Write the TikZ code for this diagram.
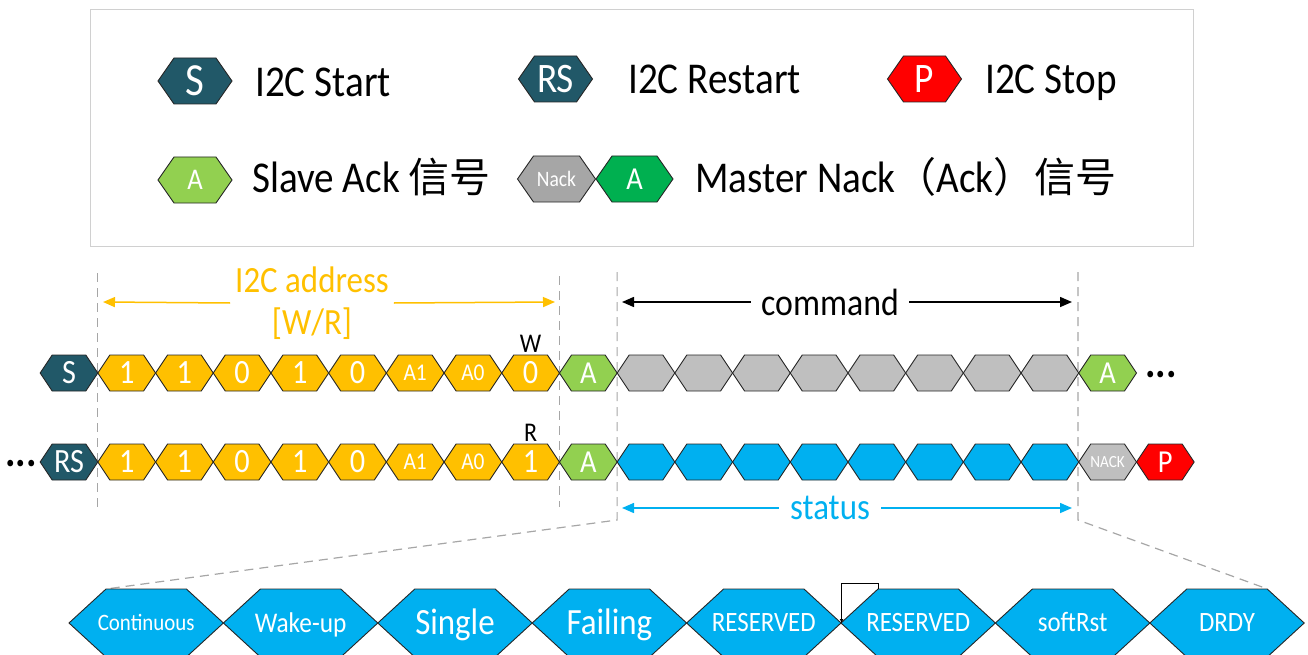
\documentclass[tikz,border=0pt]{standalone}
\usepackage{fontspec}
\setmainfont{Carlito}[FakeStretch=0.89]
\newfontfamily\cjk{Noto Sans CJK SC}
\usetikzlibrary{arrows.meta}
\definecolor{cS}{HTML}{215868}
\definecolor{cY}{HTML}{FFC000}
\definecolor{cA}{HTML}{92D050}
\definecolor{cG}{HTML}{BFBFBF}
\definecolor{cN}{HTML}{A6A6A6}
\definecolor{cD}{HTML}{00B050}
\definecolor{cR}{HTML}{FF0000}
\definecolor{cB}{HTML}{00B0F0}
\definecolor{cDash}{HTML}{A6A6A6}
\definecolor{cBox}{HTML}{D0D0D0}
\newcommand\fsz[1]{\fontsize{#1}{#1}\selectfont}
% name, x, y, width, height, point extension, fill, font size, text
\newcommand\hx[9]{%
  \filldraw[hexline,fill=#7] ({#2-#4/2},#3) -- ({#2-#4/2+#6},{#3-#5/2}) -- ({#2+#4/2-#6},{#3-#5/2}) -- ({#2+#4/2},#3) -- ({#2+#4/2-#6},{#3+#5/2}) -- ({#2-#4/2+#6},{#3+#5/2}) -- cycle;
  \node[hextext,font=\fsz{#8}] (#1) at (#2,{#3+0.32*#8}) {#9};
}
\begin{document}
\begin{tikzpicture}[x=1pt,y=-1pt,
  hexline/.style={draw=black!85,line width=0.9pt,line join=miter},
  hextext/.style={anchor=base,text=white,inner sep=0pt},
  guide/.style={draw=cDash,line width=1.2pt,dash pattern=on 9pt off 6pt},
  lbl/.style={anchor=base west,inner sep=0pt,text=black},
  dimarrow/.style={line width=1.5pt,-{Triangle[length=12pt,width=10pt]}},
]
\useasboundingbox (0,0) rectangle (1308,655);

% ---------- legend ----------
\draw[cBox,line width=1pt] (90,10) rectangle (1193,246);
\hx{lS}{195}{81}{74}{46}{16}{cS}{46}{S}
\node[lbl,font=\fsz{44}] (tS) at (255,{82+0.32*44}) {I2C Start};
\hx{lRS}{555.5}{79}{74}{46}{16}{cS}{42}{RS}
\node[lbl,font=\fsz{44}] (tRS) at (628,{79+0.32*44}) {I2C Restart};
\hx{lP}{924.5}{79}{74}{46}{16}{cR}{42}{P}
\node[lbl,font=\fsz{44}] (tP) at (985,{79+0.32*44}) {I2C Stop};
\hx{lA}{195}{180}{74}{46}{16}{cA}{30}{A}
\node[lbl,font=\fsz{44}] (tA) at (252,{178+0.32*44}) {Slave Ack {\cjk\fsz{41}信号}};
\hx{lN}{556.5}{179}{78}{46}{16}{cN}{22}{Nack}
\hx{lD}{634.5}{179}{77}{46}{16}{cD}{32}{A}
\node[lbl,font=\fsz{44}] (tN) at (695,{178+0.32*44}) {Master Nack{\cjk\fsz{41}（}Ack{\cjk\fsz{41}）信号}};

% ---------- guide lines ----------
\coordinate (g1t) at (97.8,273); \coordinate (g1b) at (97.8,507);
\coordinate (g2t) at (559.4,276); \coordinate (g2b) at (559.4,507);
\coordinate (g3t) at (617.1,272); \coordinate (g3b) at (617.1,520);
\coordinate (g4t) at (1078,272); \coordinate (g4b) at (1078,520);
\coordinate (bTL) at (106,589); \coordinate (bTR) at (1267.6,589);
\draw[guide] (g1t) -- (g1b);
\draw[guide] (g2t) -- (g2b);
\draw[guide] (g3t) -- (g3b) -- (bTL);
\draw[guide] (g4t) -- (g4b) -- (bTR);

% ---------- dimension labels ----------
\node[font=\fontsize{37}{42}\selectfont,text=cY,align=center,inner xsep=5pt,inner ysep=0pt] (addr) at (312,303) {I2C address\\{}[W/R]};
\coordinate (aL) at (103,302); \coordinate (aR) at (555,302);
\draw[dimarrow,cY] (addr.west) -- (aL);
\draw[dimarrow,cY] (addr.east) -- (aR);
\node[font=\fsz{38},inner xsep=10pt,inner ysep=0pt] (cmd) at (830,302) {command};
\coordinate (cL) at (622,302); \coordinate (cR) at (1072,302);
\draw[dimarrow,black] (cmd.west) -- (cL);
\draw[dimarrow,black] (cmd.east) -- (cR);
\node[font=\fsz{37},text=cB,inner xsep=11pt,inner ysep=0pt] (st) at (830,508) {status};
\coordinate (sL) at (622,508); \coordinate (sR) at (1072,508);
\draw[dimarrow,cB] (st.west) -- (sL);
\draw[dimarrow,cB] (st.east) -- (sR);

% ---------- row 1 (write) ----------
\hx{s1}{69}{373}{57.7}{36}{12}{cS}{34}{S}
\foreach \v/\f [count=\i] in {1/34,1/34,0/34,1/34,0/34,A1/24,A0/24,0/34}{
  \pgfmathsetmacro\xx{69+57.7*\i}
  \hx{w\i}{\xx}{373}{57.7}{36}{12}{cY}{\f}{\v}
}
\hx{ka1}{588.3}{373}{57.7}{36}{12}{cA}{32}{A}
\foreach \i in {10,...,17}{
  \pgfmathsetmacro\xx{69+57.7*\i}
  \hx{c\i}{\xx}{373}{57.7}{36}{12}{cG}{32}{}
}
\hx{ka2}{1107.6}{373}{57.7}{36}{12}{cA}{32}{A}
\node[font=\bfseries\fsz{44},anchor=base,inner sep=0pt] (dots1) at (1161,377) {...};
\node[font=\fsz{27},anchor=base,inner sep=0pt] (wl) at (530.6,352) {W};

% ---------- row 2 (read) ----------
\node[font=\bfseries\fsz{44},anchor=base,inner sep=0pt] (dots2) at (21,466) {...};
\hx{rs2}{69}{462}{57.7}{36}{12}{cS}{34}{RS}
\foreach \v/\f [count=\i] in {1/34,1/34,0/34,1/34,0/34,A1/24,A0/24,1/34}{
  \pgfmathsetmacro\xx{69+57.7*\i}
  \hx{r\i}{\xx}{462}{57.7}{36}{12}{cY}{\f}{\v}
}
\hx{kb1}{588.3}{462}{57.7}{36}{12}{cA}{32}{A}
\foreach \i in {10,...,17}{
  \pgfmathsetmacro\xx{69+57.7*\i}
  \hx{d\i}{\xx}{462}{57.7}{36}{12}{cB}{32}{}
}
\hx{nk}{1107.6}{462}{57.7}{36}{12}{cG}{17}{NACK}
\hx{pp}{1165.3}{462}{57.7}{36}{12}{cR}{32}{P}
\node[font=\fsz{27},anchor=base,inner sep=0pt] (rl) at (530.6,441) {R};

% ---------- status byte ----------
\foreach \t/\f [count=\i from 0] in {Continuous/23.5,Wake-up/28.5,Single/37,Failing/37,RESERVED/28,RESERVED/28,softRst/28,DRDY/28}{
  \pgfmathsetmacro\xx{146.2+154.4*\i}
  \hx{b\i}{\xx}{623}{154.4}{68}{37}{cB}{\f}{\t}
}
\coordinate (r2tl) at (878.6,589);
\coordinate (r2w) at (841.6,623);
\draw[line width=0.8pt,-{Latex[length=4pt,width=4pt]}] (r2tl) -- ++(0,-6) -| (r2w);
\end{tikzpicture}
\end{document}
